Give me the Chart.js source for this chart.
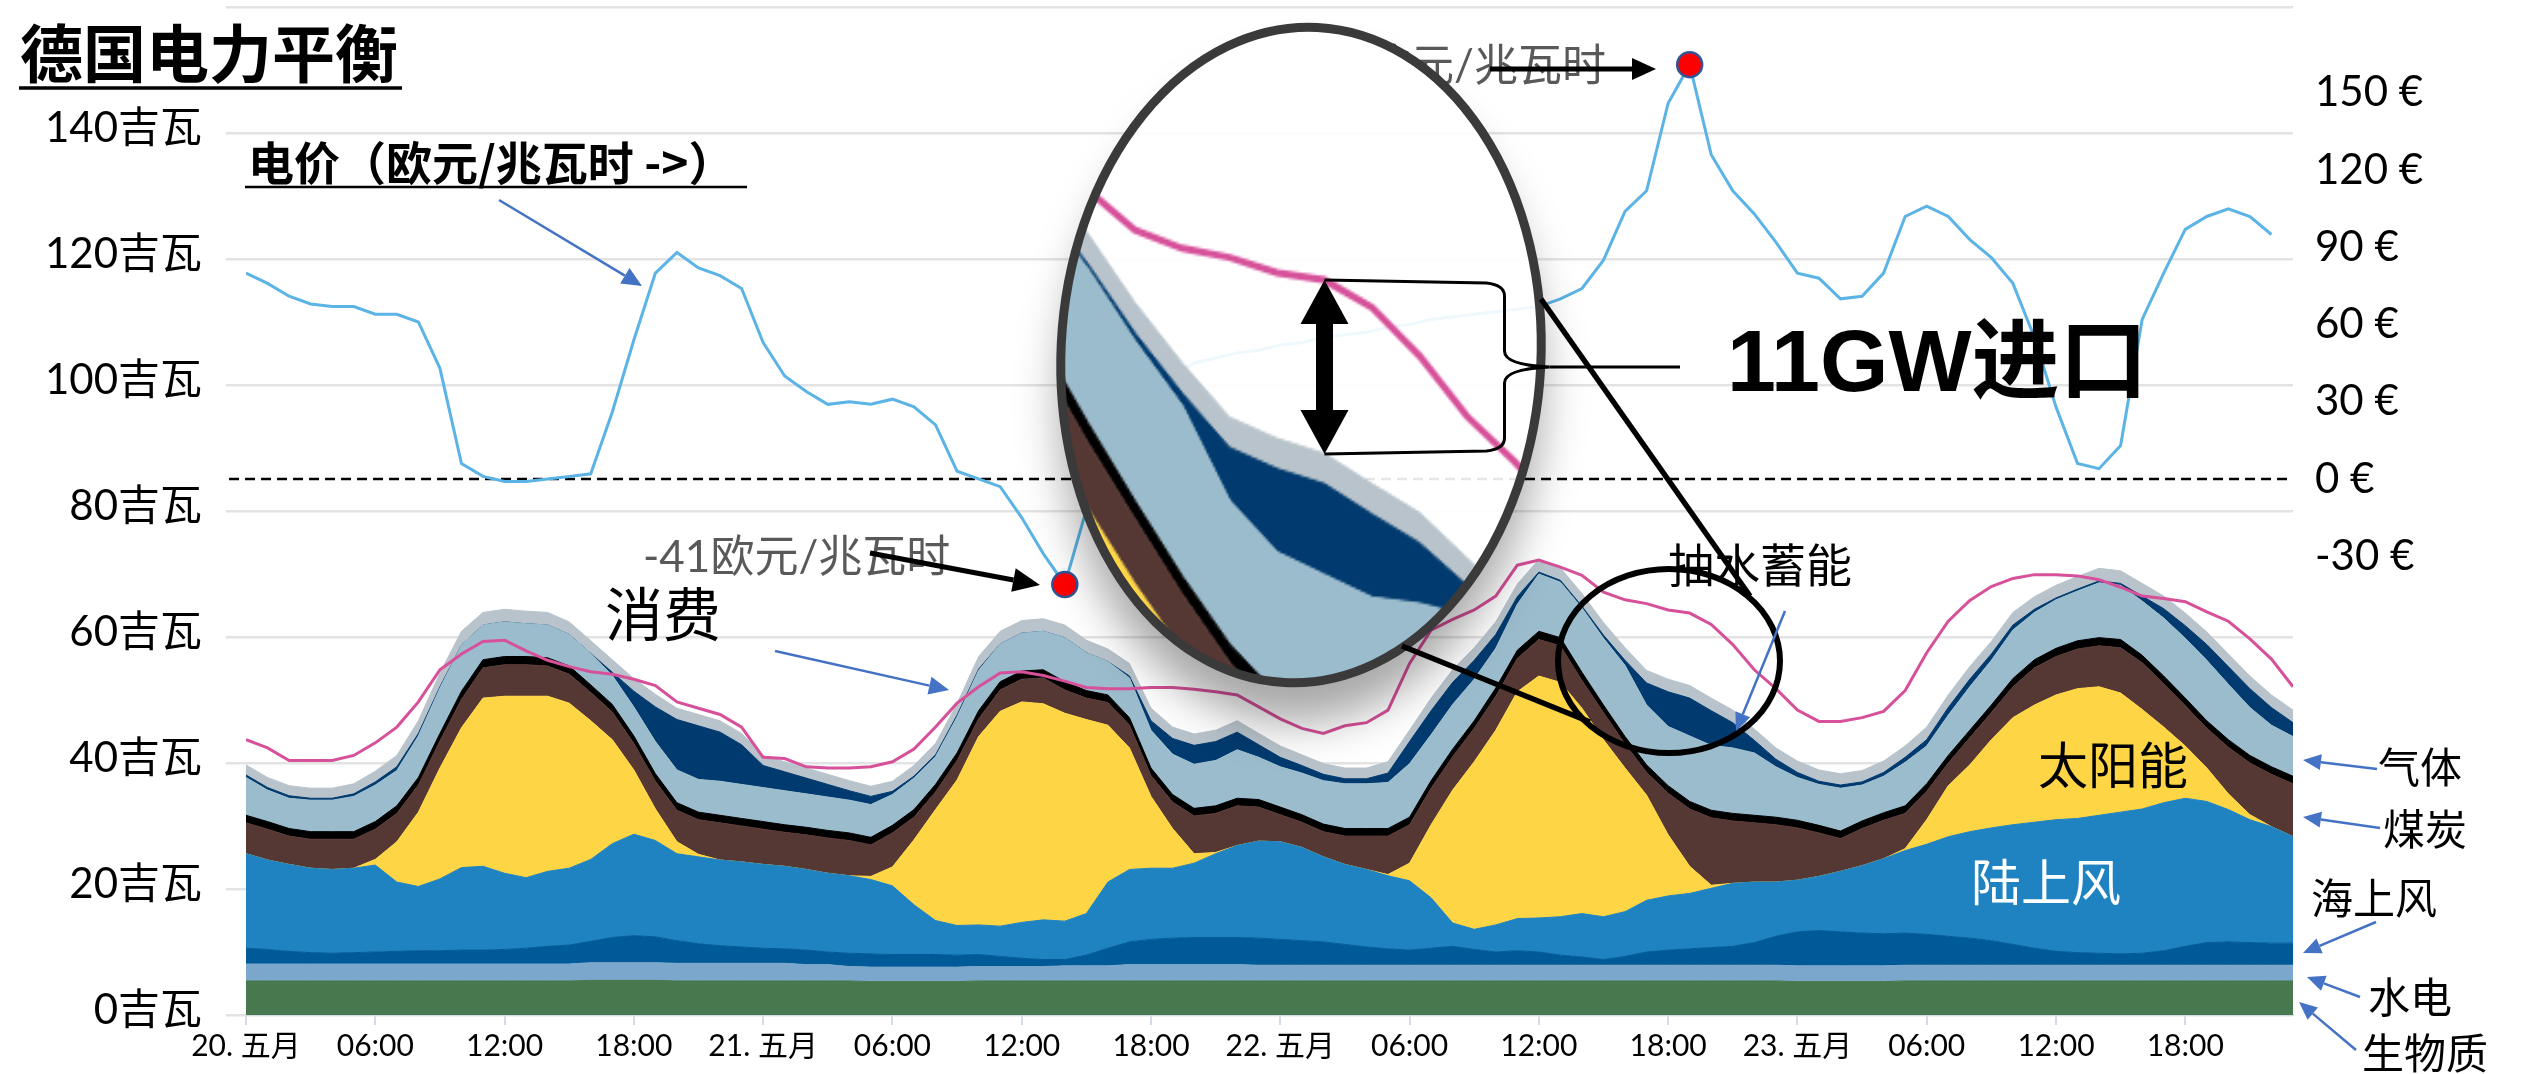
<!DOCTYPE html>
<html lang="zh">
<head>
<meta charset="utf-8">
<title>德国电力平衡</title>
<script src="https://cdn.jsdelivr.net/npm/chart.js@4.4.1/dist/chart.umd.min.js"></script>
<style>
  html, body { margin: 0; padding: 0; background: #ffffff; overflow: hidden; }
  .chart-box { position: relative; width: 2521px; height: 1074px; }
</style>
</head>
<body>
<div class="chart-box"><canvas id="balanceChart"></canvas></div>
<script>
// hourly values, 20. May 00:00 .. 23. May 23:00 (GW, price in EUR/MWh)
const biomass = [
  5.4,5.4,5.4,5.4,5.4,5.4,5.4,5.4,5.4,5.4,5.4,5.4,
  5.4,5.4,5.4,5.4,5.5,5.5,5.5,5.5,5.4,5.4,5.4,5.4,
  5.4,5.4,5.4,5.4,5.4,5.3,5.3,5.3,5.3,5.3,5.4,5.4,
  5.4,5.4,5.4,5.4,5.4,5.4,5.4,5.4,5.4,5.4,5.4,5.4,
  5.4,5.4,5.4,5.4,5.4,5.4,5.4,5.4,5.4,5.4,5.4,5.4,
  5.4,5.4,5.4,5.4,5.4,5.4,5.4,5.4,5.4,5.4,5.4,5.4,
  5.3,5.3,5.3,5.3,5.3,5.4,5.4,5.4,5.4,5.4,5.4,5.4,
  5.4,5.4,5.4,5.4,5.4,5.4,5.4,5.4,5.4,5.4,5.4,5.4
];
const hydro = [
  2.7,2.7,2.7,2.7,2.7,2.7,2.7,2.7,2.7,2.7,2.7,2.7,
  2.7,2.7,2.7,2.7,2.8,2.8,2.8,2.8,2.8,2.8,2.8,2.8,
  2.8,2.8,2.6,2.6,2.3,2.3,2.3,2.3,2.3,2.3,2.3,2.3,
  2.3,2.3,2.4,2.4,2.4,2.6,2.6,2.6,2.6,2.6,2.6,2.5,
  2.5,2.5,2.5,2.5,2.5,2.5,2.5,2.5,2.5,2.5,2.5,2.5,
  2.5,2.5,2.5,2.5,2.5,2.5,2.5,2.5,2.5,2.5,2.5,2.5,
  2.5,2.5,2.5,2.5,2.5,2.5,2.5,2.5,2.5,2.5,2.5,2.5,
  2.5,2.5,2.5,2.5,2.5,2.5,2.5,2.5,2.5,2.5,2.5,2.5
];
const offshore = [
  2.5,2.3,2.0,1.8,1.7,1.8,1.9,2.0,2.1,2.1,2.2,2.2,
  2.3,2.5,2.8,3.0,3.4,4.0,4.3,4.1,3.6,3.1,2.8,2.6,
  2.4,2.3,2.3,2.0,2.1,2.1,2.0,2.0,2.0,1.9,1.9,1.6,
  1.3,1.1,1.0,1.7,2.8,3.6,4.0,4.2,4.3,4.3,4.3,4.3,
  4.1,3.9,3.7,3.3,2.9,2.6,2.4,2.7,3.0,2.5,2.1,2.3,
  2.1,1.6,1.3,0.9,1.4,2.1,2.4,2.6,2.8,3.0,3.6,4.6,
  5.4,5.6,5.4,5.2,5.1,5.1,4.9,4.6,4.3,3.9,3.3,2.7,
  2.2,2.0,1.9,1.8,1.9,2.3,3.0,3.6,3.7,3.6,3.5,3.5
];
const onshore = [
  15.0,14.2,13.8,13.4,13.3,13.4,13.8,11.0,10.2,11.4,13.1,13.3,
  12.1,11.2,11.9,12.2,13.0,14.9,16.1,15.3,13.8,13.8,13.6,13.5,
  13.3,13.1,12.8,12.5,12.3,11.8,10.9,7.9,5.4,4.7,4.7,4.8,
  5.7,6.3,6.1,6.6,10.5,11.5,11.3,11.1,11.8,13.3,14.6,15.4,
  15.5,14.8,13.5,12.7,12.3,11.6,11.0,8.0,3.7,3.2,4.3,5.1,
  5.4,6.1,6.9,6.8,7.1,8.2,8.6,8.8,9.4,10.0,9.6,8.6,
  8.2,8.6,9.6,10.7,11.9,13.1,14.3,15.8,16.9,17.9,19.0,20.0,
  20.9,21.3,21.9,22.5,22.9,23.5,23.5,22.4,21.0,19.5,18.5,16.9
];
const solar = [
  0,0,0,0,0,0,0.9,6.4,11.8,17.6,22.2,26.7,
  28.1,28.8,27.8,26.2,22.0,16.5,10.2,5.0,1.9,0.4,0,0,
  0,0,0,0,0,0.5,3.0,10.3,17.6,23.1,29.9,34.1,
  35.0,34.3,33.0,30.8,24.9,19.3,11.4,6.3,1.5,0.2,0,0,
  0,0,0,0,0,0.2,2.8,11.6,21.1,26.6,30.9,36.0,
  38.4,37.2,32.6,28.1,22.8,16.7,9.7,4.3,0.5,0,0,0,
  0,0,0,0,0,0.3,3.9,8.1,10.6,14.0,17.0,18.6,
  19.8,20.6,20.4,18.9,15.8,12.0,8.3,5.3,2.5,0.8,0,0
];
const coal = [
  4.9,4.9,4.5,4.6,4.8,4.6,4.8,4.5,4.3,4.3,4.5,4.8,
  5.0,5.0,4.8,4.6,4.5,4.4,4.2,4.4,5.0,5.5,5.9,5.7,
  5.6,5.4,5.5,5.6,5.6,5.0,5.4,3.6,2.8,3.1,2.8,3.4,
  3.6,4.1,3.7,3.4,3.6,3.6,3.3,4.2,6.0,6.2,6.3,5.4,
  4.3,4.0,4.0,4.5,5.3,6.1,6.1,5.8,5.3,5.3,5.4,5.3,
  5.8,5.8,4.4,4.3,3.8,3.6,6.6,9.1,10.7,9.9,9.4,9.1,
  8.3,6.9,5.2,5.9,6.1,5.6,4.5,3.6,4.3,4.3,4.9,5.9,
  6.1,6.3,6.5,7.2,7.4,6.9,6.4,6.3,7.4,8.2,8.3,8.4
];
const lignite = [
  1.2,1.2,1.2,1.2,1.2,1.2,1.2,1.2,1.2,1.2,1.3,1.3,
  1.3,1.3,1.3,1.3,1.2,1.2,1.2,1.2,1.2,1.2,1.2,1.2,
  1.2,1.2,1.2,1.2,1.2,1.2,1.2,1.2,1.2,1.2,1.3,1.3,
  1.3,1.3,1.3,1.2,1.2,1.2,1.2,1.2,1.2,1.2,1.2,1.2,
  1.2,1.2,1.2,1.2,1.2,1.2,1.2,1.2,1.2,1.2,1.3,1.3,
  1.3,1.3,1.3,1.2,1.2,1.2,1.2,1.2,1.2,1.2,1.2,1.2,
  1.2,1.2,1.2,1.2,1.2,1.2,1.2,1.2,1.2,1.2,1.3,1.3,
  1.3,1.3,1.3,1.3,1.2,1.2,1.2,1.2,1.2,1.2,1.2,1.2
];
const gas = [
  6.0,5.0,4.8,5.0,5.0,5.6,5.8,5.6,6.6,7.2,7.3,5.5,
  5.5,5.2,5.2,5.0,5.0,4.6,4.6,5.1,5.2,5.2,5.4,5.4,
  5.4,5.4,5.3,5.3,5.2,5.2,4.9,5.0,4.4,5.7,6.4,6.0,
  6.0,6.1,7.0,6.0,5.3,6.3,6.0,6.4,7.0,7.2,7.7,6.7,
  6.4,6.6,6.9,7.1,7.1,7.3,8.5,7.3,7.1,6.6,6.3,7.3,
  9.1,8.8,10.2,10.6,11.3,9.5,9.4,10.4,10.3,10.4,9.9,8.0,
  6.8,6.5,6.8,5.7,5.8,6.9,6.0,6.4,6.9,7.1,7.7,7.5,
  7.7,7.9,8.7,8.6,8.6,9.2,9.5,9.6,8.8,7.6,6.6,6.3
];
const pumpedStorage = [
  0.4,0.4,0.4,0.3,0.3,0.4,0.5,0.6,0.4,0.2,0,0,
  0,0,0,0,0,0.5,2.5,5.5,8.0,8.5,7.8,6.3,
  3.5,3.0,2.5,2.0,1.5,1.3,0.5,0.3,0.3,0.3,0.2,0,
  0,0,0,0,0,0.3,1.5,2.5,3.0,3.0,2.8,2.0,
  1.5,1.2,1.0,0.8,0.8,1.5,3.5,3.8,3.5,3.0,2.2,1.2,
  0.3,0.3,0.3,0.5,0.8,3.5,5.5,6.0,5.5,4.0,2.0,1.2,
  0.8,0.5,0.5,0.5,0.6,0.8,1.0,1.2,1.2,1.0,0.8,0.5,
  0.3,0.3,0.3,0.3,0.8,1.5,2.0,2.5,2.8,3.0,2.8,2.2
];
const otherGen = [
  1.6,1.6,1.6,1.6,1.6,1.6,1.7,1.8,2.0,2.2,2.2,2.0,
  2.0,2.0,2.0,2.0,2.0,2.0,2.0,2.0,1.8,1.8,1.8,1.8,
  1.6,1.6,1.6,1.6,1.6,1.6,1.6,1.7,1.8,1.8,2.0,2.0,
  2.0,2.0,2.0,2.0,2.0,2.0,2.0,1.8,1.8,1.8,1.8,1.8,
  1.8,1.7,1.7,1.7,1.7,1.8,1.8,2.0,2.0,2.0,2.0,2.0,
  2.0,2.0,2.0,2.0,2.0,2.0,2.0,2.0,2.0,2.0,1.8,1.8,
  1.8,1.8,1.8,1.8,1.8,1.8,2.0,2.0,2.0,2.0,2.0,2.0,
  2.0,2.0,2.0,2.0,2.0,2.0,2.0,2.0,2.0,2.0,2.0,2.0
];
const consumption = [
  43.7,42.4,40.4,40.4,40.4,41.2,43.2,45.7,49.7,54.8,57.3,59.3,
  59.5,57.8,56.3,55.3,54.5,54.1,53.3,52.3,49.7,48.7,47.7,45.7,
  40.9,40.7,39.4,39.2,39.2,39.4,40.2,42.2,45.7,49.5,52.1,54.3,
  54.5,53.9,53.0,52.0,51.8,51.8,52.0,52.0,51.7,51.3,50.8,48.9,
  47.0,45.5,44.7,45.9,46.4,48.4,55.8,61.1,62.8,64.3,66.5,71.4,
  72.2,71.1,69.8,67.1,65.9,65.3,64.3,63.8,62.0,58.8,54.8,51.8,
  48.4,46.6,46.6,47.2,48.2,51.5,57.5,62.5,65.8,68.0,69.3,69.9,
  69.9,69.7,69.1,67.9,66.5,66.1,65.6,64.0,62.5,59.7,56.5,52.1
];
const price = [
  80,76,71,68,67,67,64,64,61,43,6,1,
  -1,-1,0,1,2,26,54,80,88,82,79,74,
  53,40,34,29,30,29,31,28,21,3,0,-3,
  -15,-29,-41,-12,5,20,32,40,45,47,49,50,
  52,53,55,56,57,59,60,62,63,64,65,66,
  67,70,74,85,104,112,146,161,126,112,103,92,
  80,78,70,71,80,102,106,102,93,86,76,55,
  28,6,4,13,62,80,97,102,105,102,95,null
];

const tickHours = [0, 6, 12, 18, 24, 30, 36, 42, 48, 54, 60, 66, 72, 78, 84, 90];
const xTickLabels = ["20. 五月", "06:00", "12:00", "18:00", "21. 五月", "06:00", "12:00", "18:00",
  "22. 五月", "06:00", "12:00", "18:00", "23. 五月", "06:00", "12:00", "18:00"];
const priceTicks = [-30, 0, 30, 60, 90, 120, 150];
const markHours = [38, 67];   // price extremes with red dots
const importHour = 67;        // hour shown inside the magnifier

const hourIndex = biomass.map((_, i) => i);

const FONT = "Lato, 'Noto Sans CJK SC', sans-serif";
const CJK = "'Noto Sans CJK SC', sans-serif";
Chart.defaults.font.family = FONT;
Chart.defaults.color = "#000000";

// magnifier geometry (canvas px)
const lens = { cx: 1301, cy: 355, rx: 240, ry: 328, rot: 0.05 };
const lensSrc = { x: 1570, y: 508, w: 218, h: 273 };
const lensDst = { x: 1061, y: 28, w: 480, h: 655 };

function areaSet(label, data, color, first) {
  return {
    label: label,
    data: data,
    yAxisID: "y",
    stack: "gen",
    order: 1,
    fill: first ? "origin" : "-1",
    backgroundColor: color,
    borderColor: color,
    borderWidth: 1,
    pointRadius: 0,
    tension: 0
  };
}

function drawArrow(ctx, x1, y1, x2, y2, color, width, headLen, headHalf) {
  const a = Math.atan2(y2 - y1, x2 - x1);
  const bx = x2 - headLen * Math.cos(a);
  const by = y2 - headLen * Math.sin(a);
  ctx.save();
  ctx.strokeStyle = color;
  ctx.fillStyle = color;
  ctx.lineWidth = width;
  ctx.beginPath();
  ctx.moveTo(x1, y1);
  ctx.lineTo(bx, by);
  ctx.stroke();
  ctx.beginPath();
  ctx.moveTo(x2, y2);
  ctx.lineTo(bx + headHalf * Math.sin(a), by - headHalf * Math.cos(a));
  ctx.lineTo(bx - headHalf * Math.sin(a), by + headHalf * Math.cos(a));
  ctx.closePath();
  ctx.fill();
  ctx.restore();
}

function drawText(ctx, str, x, y, font, color, align) {
  ctx.save();
  ctx.font = font;
  ctx.fillStyle = color;
  ctx.textAlign = align || "left";
  ctx.textBaseline = "middle";
  ctx.fillText(str, x, y);
  ctx.restore();
}

function drawLine(ctx, x1, y1, x2, y2, width, color) {
  ctx.save();
  ctx.strokeStyle = color || "#000";
  ctx.lineWidth = width;
  ctx.beginPath();
  ctx.moveTo(x1, y1);
  ctx.lineTo(x2, y2);
  ctx.stroke();
  ctx.restore();
}

function lensPath(ctx) {
  ctx.beginPath();
  ctx.ellipse(lens.cx, lens.cy, lens.rx, lens.ry, lens.rot, 0, Math.PI * 2);
}

function clipOutsideLens(chart) {
  const ctx = chart.ctx;
  ctx.beginPath();
  ctx.rect(0, 0, chart.width, chart.height);
  ctx.moveTo(lens.cx + lens.rx * Math.cos(lens.rot), lens.cy + lens.rx * Math.sin(lens.rot));
  ctx.ellipse(lens.cx, lens.cy, lens.rx, lens.ry, lens.rot, 0, Math.PI * 2);
  ctx.clip("evenodd");
}

let gridPatch = null;

function drawZeroLine(chart) {
  const ctx = chart.ctx;
  const y = chart.scales.y2.getPixelForValue(0);
  ctx.save();
  ctx.setLineDash([10, 6]);
  ctx.lineWidth = 2.5;
  ctx.strokeStyle = "#000";
  ctx.beginPath();
  ctx.moveTo(229, y);
  ctx.lineTo(chart.chartArea.right, y);
  ctx.stroke();
  ctx.restore();
}

function drawLens(chart) {
  const ctx = chart.ctx;
  const r = chart.currentDevicePixelRatio;

  // shadow outside the lens only
  ctx.save();
  clipOutsideLens(chart);
  ctx.shadowColor = "rgba(0,0,0,0.35)";
  ctx.shadowBlur = 45 * r;
  ctx.shadowOffsetY = 40 * r;
  lensPath(ctx);
  ctx.fillStyle = "#ffffff";
  ctx.fill();
  ctx.restore();

  // glass + enlarged copy of the marked region
  ctx.save();
  lensPath(ctx);
  ctx.fillStyle = "rgba(255,255,255,0.9)";
  ctx.fill();
  ctx.clip();
  ctx.drawImage(chart.canvas,
    lensSrc.x * r, lensSrc.y * r, lensSrc.w * r, lensSrc.h * r,
    lensDst.x, lensDst.y, lensDst.w, lensDst.h);
  ctx.restore();

  ctx.save();
  lensPath(ctx);
  ctx.lineWidth = 9;
  ctx.strokeStyle = "#3a3a3a";
  ctx.stroke();
  ctx.restore();
}

function restoreGrid(chart) {
  if (!gridPatch) return;
  const ctx = chart.ctx;
  const r = chart.currentDevicePixelRatio;
  const tmp = document.createElement("canvas");
  tmp.width = gridPatch.width;
  tmp.height = gridPatch.height;
  tmp.getContext("2d").putImageData(gridPatch, 0, 0);
  ctx.save();
  ctx.setTransform(1, 0, 0, 1, 0, 0);
  ctx.globalCompositeOperation = "destination-over";
  ctx.drawImage(tmp, Math.round(lensSrc.x * r), Math.round(lensSrc.y * r));
  ctx.restore();
}

function drawImportMark(chart) {
  const ctx = chart.ctx;
  const consMeta = chart.getDatasetMeta(10);
  const topMeta = chart.getDatasetMeta(9);
  const px = consMeta.data[importHour].x;
  const mx = lensDst.x + (px - lensSrc.x) * lensDst.w / lensSrc.w;
  const y1 = lensDst.y + (consMeta.data[importHour].y - lensSrc.y) * lensDst.h / lensSrc.h;
  const y2 = lensDst.y + (topMeta.data[importHour].y - lensSrc.y) * lensDst.h / lensSrc.h;
  const mid = (y1 + y2) / 2;
  const bx = mx + 180;

  ctx.save();
  ctx.fillStyle = "#000";
  ctx.fillRect(mx - 8.5, y1 + 40, 17, y2 - y1 - 80);
  ctx.beginPath();
  ctx.moveTo(mx, y1);
  ctx.lineTo(mx + 24, y1 + 44);
  ctx.lineTo(mx - 24, y1 + 44);
  ctx.closePath();
  ctx.fill();
  ctx.beginPath();
  ctx.moveTo(mx, y2);
  ctx.lineTo(mx + 24, y2 - 44);
  ctx.lineTo(mx - 24, y2 - 44);
  ctx.closePath();
  ctx.fill();

  ctx.strokeStyle = "#000";
  ctx.lineWidth = 3;
  ctx.beginPath();
  ctx.moveTo(mx, y1);
  ctx.lineTo(bx - 18, y1 + 3);
  ctx.quadraticCurveTo(bx, y1 + 5, bx, y1 + 16);
  ctx.lineTo(bx, mid - 16);
  ctx.quadraticCurveTo(bx, mid - 2, bx + 45, mid);
  ctx.quadraticCurveTo(bx, mid + 2, bx, mid + 16);
  ctx.lineTo(bx, y2 - 16);
  ctx.quadraticCurveTo(bx, y2 - 5, bx - 18, y2 - 3);
  ctx.lineTo(mx, y2);
  ctx.stroke();
  ctx.beginPath();
  ctx.moveTo(bx + 45, mid);
  ctx.lineTo(1680, mid);
  ctx.stroke();
  ctx.restore();

  drawText(ctx, "11GW进口", 1727, mid, "bold 88px 'Liberation Sans', " + CJK, "#000");
}

function drawNotes(chart) {
  const ctx = chart.ctx;
  const blue = "#4472c4";

  // marked region and connectors
  ctx.save();
  ctx.beginPath();
  ctx.ellipse(1669, 661, 111, 92, 0, 0, Math.PI * 2);
  ctx.lineWidth = 6;
  ctx.strokeStyle = "#000";
  ctx.stroke();
  ctx.restore();

  drawText(ctx, "抽水蓄能", 1668, 567, "46px " + FONT, "#000");
  drawArrow(ctx, 1785, 611, 1736, 731, blue, 2.5, 18, 8);
  drawLine(ctx, 1541, 299, 1750, 596, 5.5);
  drawLine(ctx, 1402, 646, 1590, 722, 5.5);

  // title and price label
  drawText(ctx, "德国电力平衡", 20, 53, "bold 63px " + CJK, "#000");
  drawLine(ctx, 19, 88, 402, 88, 3.5);
  drawText(ctx, "电价（欧元/兆瓦时 ->）", 248, 163, "bold 46px " + CJK, "#000");
  drawLine(ctx, 245, 187, 747, 187, 2.5);
  drawArrow(ctx, 499, 200, 642, 286, blue, 2.5, 20, 9);

  drawText(ctx, "-41欧元/兆瓦时", 643, 558, "44px " + FONT, "#595959");
  drawArrow(ctx, 870, 553, 1040, 585, "#000", 5, 27, 12);

  drawText(ctx, "消费", 605, 617, "58px " + FONT, "#000");
  drawArrow(ctx, 775, 651, 949, 690, blue, 2.5, 20, 9);

  drawText(ctx, "太阳能", 2113, 768, "50px " + FONT, "#000", "center");
  drawText(ctx, "陆上风", 2046, 885, "50px " + FONT, "#ffffff", "center");

  // series names on the right
  drawText(ctx, "气体", 2420, 769, "42px " + FONT, "#000", "center");
  drawArrow(ctx, 2377, 769, 2303, 760, blue, 2.5, 18, 8);
  drawText(ctx, "煤炭", 2425, 831, "42px " + FONT, "#000", "center");
  drawArrow(ctx, 2380, 828, 2303, 817, blue, 2.5, 18, 8);
  drawText(ctx, "海上风", 2374, 900, "42px " + FONT, "#000", "center");
  drawArrow(ctx, 2376, 922, 2303, 953, blue, 2.5, 18, 8);
  drawText(ctx, "水电", 2410, 999, "42px " + FONT, "#000", "center");
  drawArrow(ctx, 2360, 997, 2307, 977, blue, 2.5, 18, 8);
  drawText(ctx, "生物质", 2425, 1055, "42px " + FONT, "#000", "center");
  drawArrow(ctx, 2356, 1050, 2299, 1002, blue, 2.5, 18, 8);
}

const overlayPlugin = {
  id: "overlay",
  beforeDatasetsDraw(chart) {
    const ctx = chart.ctx;
    const r = chart.currentDevicePixelRatio;
    gridPatch = ctx.getImageData(Math.round(lensSrc.x * r), Math.round(lensSrc.y * r),
      Math.round(lensSrc.w * r), Math.round(lensSrc.h * r));
    ctx.clearRect(lensSrc.x, lensSrc.y, lensSrc.w, lensSrc.h);
    drawZeroLine(chart);
  },
  afterDatasetsDraw(chart) {
    const ctx = chart.ctx;
    // note partly hidden behind the lens
    ctx.save();
    clipOutsideLens(chart);
    drawText(ctx, "161欧元/兆瓦时", 1606, 67, "44px " + FONT, "#595959", "right");
    ctx.restore();
    drawArrow(ctx, 1490, 69, 1656, 69, "#000", 5, 24, 11);
    drawLens(chart);
    restoreGrid(chart);
    drawImportMark(chart);
    drawNotes(chart);
  }
};

const chart = new Chart(document.getElementById("balanceChart"), {
  type: "line",
  data: {
    labels: hourIndex,
    datasets: [
      areaSet("生物质", biomass, "#48784d", true),
      areaSet("水电", hydro, "#7aa7cb"),
      areaSet("海上风", offshore, "#005a97"),
      areaSet("陆上风", onshore, "#1f82c1"),
      areaSet("太阳能", solar, "#fdd545"),
      areaSet("煤炭", coal, "#553733"),
      areaSet("褐煤", lignite, "#000000"),
      areaSet("气体", gas, "#9bbccd"),
      areaSet("抽水蓄能", pumpedStorage, "#003a6e"),
      areaSet("其他", otherGen, "#b8c3cb"),
      {
        label: "消费",
        data: consumption,
        yAxisID: "y",
        stack: "load",
        order: 0,
        fill: false,
        borderColor: "#d6509a",
        borderWidth: 3,
        pointRadius: 0,
        tension: 0
      },
      {
        label: "电价",
        data: price,
        yAxisID: "y2",
        order: 0,
        fill: false,
        borderColor: "#5bb4e5",
        borderWidth: 3,
        tension: 0,
        pointRadius: c => (markHours.includes(c.dataIndex) ? 12.5 : 0),
        pointBackgroundColor: "#ff0000",
        pointBorderColor: "#2f5597",
        pointBorderWidth: 2.5
      }
    ]
  },
  options: {
    responsive: true,
    maintainAspectRatio: false,
    animation: false,
    layout: { padding: { top: 7, left: 0, right: 0, bottom: 0 } },
    plugins: {
      legend: { display: false },
      tooltip: { enabled: false }
    },
    scales: {
      x: {
        type: "linear",
        min: 0,
        max: 95,
        afterBuildTicks: s => { s.ticks = tickHours.map(v => ({ value: v })); },
        afterFit: s => { s.height = 59; s.paddingLeft = 0; s.paddingRight = 0; },
        ticks: {
          autoSkip: false,
          maxRotation: 0,
          padding: 3,
          font: { size: 30 },
          callback: (v, i) => xTickLabels[i]
        },
        grid: { drawOnChartArea: false, drawTicks: true, tickLength: 10, color: "#d5dbe5", lineWidth: 2 },
        border: { display: true, color: "#d5dbe5", width: 2 }
      },
      y: {
        position: "left",
        stacked: true,
        min: 0,
        max: 160,
        afterFit: s => { s.width = 246; s.paddingTop = 0; s.paddingBottom = 0; },
        ticks: {
          stepSize: 20,
          padding: 24,
          labelOffset: -5,
          font: { size: 42 },
          callback: v => (v === 160 ? "" : v + "吉瓦")
        },
        grid: { color: "#e3e3e3", lineWidth: 2.5, drawTicks: true, tickLength: 20 },
        border: { display: false }
      },
      y2: {
        type: "linear",
        position: "right",
        min: -208.3,
        max: 183.4,
        afterBuildTicks: s => { s.ticks = priceTicks.map(v => ({ value: v })); },
        afterFit: s => { s.width = 228; s.paddingTop = 0; s.paddingBottom = 0; },
        ticks: {
          padding: 14,
          font: { size: 42 },
          callback: v => v + " €"
        },
        grid: { display: false },
        border: { display: false }
      }
    }
  },
  plugins: [overlayPlugin]
});
</script>
</body>
</html>
